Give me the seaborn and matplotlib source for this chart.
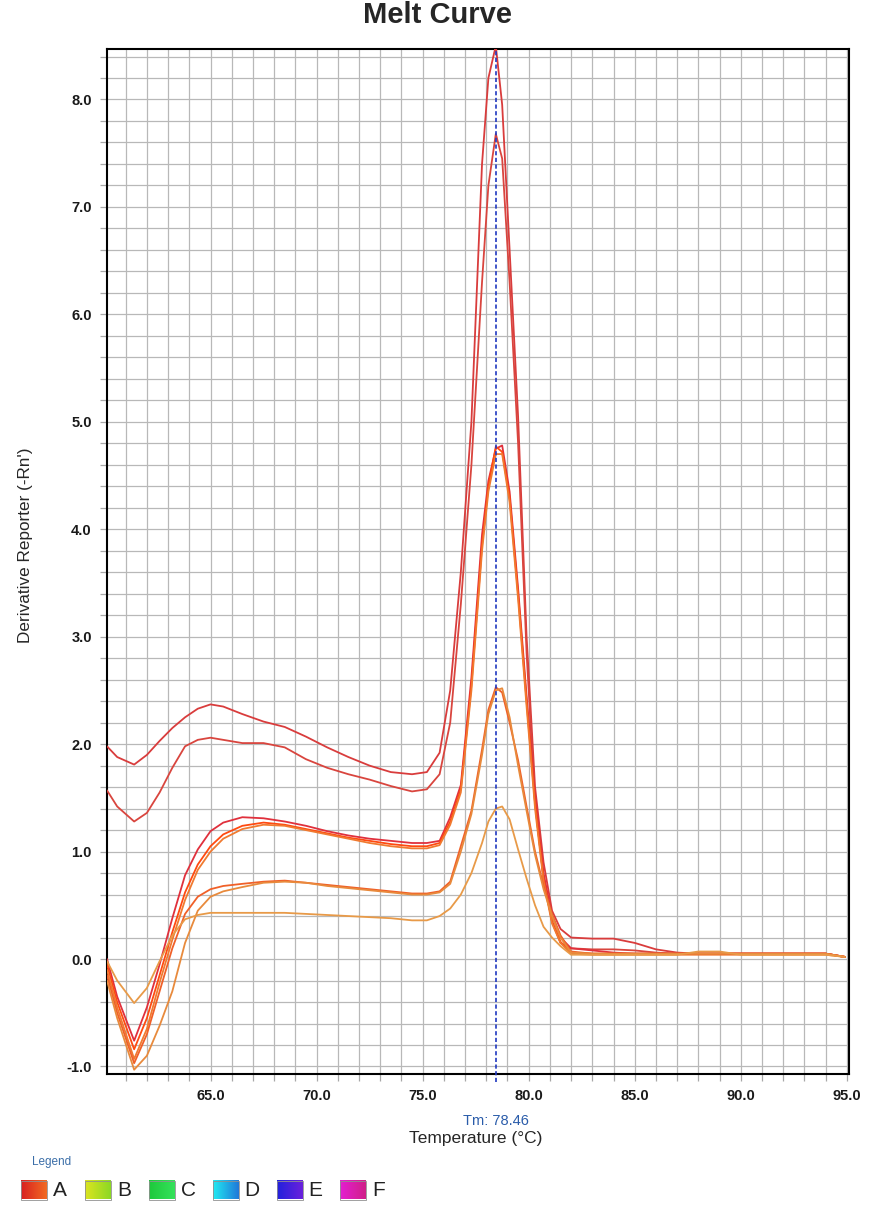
import numpy as np
import pandas as pd
import seaborn as sns
import matplotlib.pyplot as plt
from matplotlib.colors import LinearSegmentedColormap
from matplotlib.patches import Rectangle
from matplotlib.ticker import FormatStrFormatter, MultipleLocator

# temperature points (deg C), shared by every well
temps = [60.12, 60.6, 61.4, 62.0, 62.6, 63.2, 63.8, 64.4, 65.0, 65.6,
         66.5, 67.5, 68.5, 69.5, 70.5, 71.5, 72.5, 73.5, 74.5, 75.2,
         75.8, 76.3, 76.8, 77.3, 77.8, 78.1, 78.45, 78.75, 79.1, 79.5,
         79.9, 80.3, 80.7, 81.1, 81.5, 82.0,
         83.0, 84.0, 85.0, 86.0, 87.0, 88.0, 89.0, 90.0, 91.0, 92.0, 93.0, 94.0, 94.9]

# derivative reporter (-Rn') per well
well_1 = [1.98, 1.88, 1.81, 1.90, 2.03, 2.15, 2.25, 2.33, 2.37, 2.35, 2.28, 2.21, 2.16, 2.07, 1.97, 1.88, 1.80, 1.74, 1.72, 1.74,
          1.92, 2.50, 3.60, 5.00, 7.40, 8.20, 8.50, 7.95, 6.60, 5.05, 3.00, 1.60, 0.90, 0.45, 0.28, 0.20,
          0.19, 0.19, 0.15, 0.09, 0.06, 0.05, 0.05, 0.05, 0.05, 0.05, 0.05, 0.05, 0.02]
well_2 = [1.57, 1.42, 1.28, 1.36, 1.55, 1.78, 1.98, 2.04, 2.06, 2.04, 2.01, 2.01, 1.97, 1.86, 1.78, 1.72, 1.67, 1.61, 1.56, 1.58,
          1.72, 2.20, 3.30, 4.60, 6.30, 7.20, 7.68, 7.45, 6.30, 4.80, 2.85, 1.45, 0.75, 0.35, 0.15, 0.10,
          0.09, 0.09, 0.08, 0.06, 0.05, 0.05, 0.05, 0.05, 0.05, 0.05, 0.05, 0.05, 0.02]
well_3 = [0.00, -0.35, -0.76, -0.45, -0.05, 0.38, 0.78, 1.02, 1.19, 1.27, 1.32, 1.31, 1.28, 1.24, 1.19, 1.15, 1.12, 1.10, 1.08, 1.08,
          1.10, 1.32, 1.62, 2.62, 3.95, 4.45, 4.75, 4.78, 4.35, 3.45, 2.45, 1.50, 0.80, 0.40, 0.20, 0.10,
          0.08, 0.06, 0.05, 0.05, 0.05, 0.05, 0.05, 0.05, 0.05, 0.05, 0.05, 0.05, 0.02]
well_4 = [-0.05, -0.40, -0.84, -0.55, -0.15, 0.25, 0.62, 0.88, 1.05, 1.16, 1.24, 1.27, 1.25, 1.21, 1.17, 1.13, 1.10, 1.07, 1.05, 1.05,
          1.08, 1.28, 1.58, 2.55, 3.85, 4.40, 4.77, 4.72, 4.30, 3.40, 2.40, 1.45, 0.75, 0.35, 0.16, 0.06,
          0.05, 0.05, 0.05, 0.05, 0.05, 0.05, 0.05, 0.05, 0.05, 0.05, 0.05, 0.05, 0.02]
well_5 = [-0.10, -0.45, -0.93, -0.65, -0.22, 0.18, 0.55, 0.83, 1.00, 1.12, 1.21, 1.25, 1.24, 1.20, 1.16, 1.12, 1.08, 1.05, 1.03, 1.03,
          1.06, 1.25, 1.55, 2.50, 3.80, 4.35, 4.70, 4.70, 4.25, 3.35, 2.35, 1.40, 0.72, 0.33, 0.15, 0.05,
          0.04, 0.04, 0.04, 0.04, 0.04, 0.04, 0.04, 0.04, 0.04, 0.04, 0.04, 0.04, 0.02]
well_6 = [-0.15, -0.50, -0.97, -0.70, -0.30, 0.10, 0.42, 0.58, 0.65, 0.68, 0.70, 0.72, 0.73, 0.71, 0.69, 0.67, 0.65, 0.63, 0.61, 0.61,
          0.63, 0.72, 1.05, 1.38, 1.95, 2.32, 2.53, 2.48, 2.20, 1.85, 1.42, 1.00, 0.68, 0.42, 0.22, 0.07,
          0.05, 0.05, 0.05, 0.05, 0.05, 0.05, 0.05, 0.05, 0.05, 0.05, 0.05, 0.05, 0.02]
well_7 = [-0.20, -0.55, -1.03, -0.90, -0.62, -0.30, 0.15, 0.45, 0.58, 0.63, 0.67, 0.71, 0.72, 0.71, 0.68, 0.66, 0.64, 0.62, 0.60, 0.60,
          0.62, 0.70, 1.00, 1.35, 1.90, 2.28, 2.50, 2.52, 2.25, 1.80, 1.38, 0.97, 0.65, 0.40, 0.20, 0.06,
          0.05, 0.05, 0.05, 0.05, 0.05, 0.05, 0.05, 0.05, 0.05, 0.05, 0.05, 0.05, 0.02]
well_8 = [-0.02, -0.20, -0.41, -0.27, -0.02, 0.22, 0.37, 0.41, 0.43, 0.43, 0.43, 0.43, 0.43, 0.42, 0.41, 0.40, 0.39, 0.38, 0.36, 0.36,
          0.40, 0.47, 0.60, 0.80, 1.08, 1.28, 1.40, 1.42, 1.30, 1.02, 0.75, 0.50, 0.30, 0.20, 0.12, 0.04,
          0.04, 0.04, 0.04, 0.04, 0.04, 0.07, 0.07, 0.04, 0.04, 0.04, 0.04, 0.04, 0.02]

wells = ['A1', 'A2', 'A3', 'A4', 'A5', 'A6', 'A7', 'A8']
well_colors = ['#d93c3c', '#d9453e', '#e0303c', '#ff4a10', '#f07a30', '#f06028', '#e88a3c', '#e89a48']
tm_value = 78.46
legend_labels = ['A', 'B', 'C', 'D', 'E', 'F']
legend_grads = [('#d82020', '#f26a22'), ('#dce420', '#8cd824'), ('#1ec83c', '#34e25a'),
                ('#20eaf2', '#2078d8'), ('#2222dc', '#6a20dc'), ('#e41ed2', '#d02088')]

df = pd.DataFrame({
    'Temperature': np.tile(temps, len(wells)),
    'Deriv': np.concatenate([well_1, well_2, well_3, well_4, well_5, well_6, well_7, well_8]),
    'Well': np.repeat(wells, len(temps)),
})

sns.set_style('white')
plt.rcParams['font.family'] = ['Liberation Sans', 'DejaVu Sans']

fig = plt.figure(figsize=(8.7, 12.07), dpi=100)
ax = fig.add_axes([107 / 870, 1 - 1074 / 1207, 742 / 870, 1025 / 1207])

sns.lineplot(data=df, x='Temperature', y='Deriv', hue='Well', palette=well_colors,
             estimator=None, sort=False, legend=False, linewidth=1.3, ax=ax, zorder=3)

ax.axvline(tm_value, ymin=-0.008, ymax=1, color='#2038c0', linestyle=(0, (2.5, 1.5)),
           linewidth=1.2, clip_on=False, zorder=4)

ax.set_xlim(60.12, 95.1)
ax.set_ylim(-1.07, 8.47)
ax.xaxis.set_major_locator(MultipleLocator(5))
ax.xaxis.set_minor_locator(MultipleLocator(1))
ax.yaxis.set_major_locator(MultipleLocator(1))
ax.yaxis.set_minor_locator(MultipleLocator(0.2))
ax.xaxis.set_major_formatter(FormatStrFormatter('%.1f'))
ax.yaxis.set_major_formatter(FormatStrFormatter('%.1f'))
ax.set_xticks([65, 70, 75, 80, 85, 90, 95])
ax.grid(True, which='both', color='#b8b8b8', linewidth=0.9)
ax.set_axisbelow(True)
ax.tick_params(which='both', direction='out', length=5, width=0.9, color='#a8a8a8',
               left=True, bottom=True)
ax.tick_params(which='major', labelsize=10.5, pad=6, labelcolor='#1a1a1a')
for lbl in ax.get_xticklabels() + ax.get_yticklabels():
    lbl.set_fontweight('bold')
for sp in ax.spines.values():
    sp.set_color('black')
    sp.set_linewidth(1.5)

ax.set_xlabel('Temperature (°C)', fontsize=12.5)
ax.set_ylabel("Derivative Reporter (-Rn')", fontsize=12.3)
ax.xaxis.set_label_coords(0.497, -0.0634)
ax.yaxis.set_label_coords(-0.1105, 0.516)
ax.xaxis.label.set_va('center')
ax.yaxis.label.set_va('center')

ax.text(tm_value, -0.0455, 'Tm: 78.46', transform=ax.get_xaxis_transform(),
        ha='center', va='center', fontsize=10.5, color='#2a5caa')

fig.text(0.503, 1 - 23 / 1207, 'Melt Curve', ha='center', va='baseline',
         fontsize=21, fontweight='bold')

# bottom legend with gradient swatches, drawn in pixel coordinates
lax = fig.add_axes([0, 0, 1, 1], zorder=5)
lax.patch.set_alpha(0)
lax.axis('off')
lax.text(32, 1162, 'Legend', ha='left', va='center', fontsize=8.5, color='#3b6ea8')
for i, (lab, (c0, c1)) in enumerate(zip(legend_labels, legend_grads)):
    x0 = 21 + i * 63.9
    cmap = LinearSegmentedColormap.from_list('g%d' % i, [c0, c1])
    lax.imshow(np.linspace(0, 1, 64).reshape(1, -1), cmap=cmap, aspect='auto',
               extent=(x0, x0 + 26, 1199.5, 1180.5))
    lax.add_patch(Rectangle((x0, 1180.5), 26, 19, fill=False, edgecolor='#909090', linewidth=0.6))
    lax.text(x0 + 32, 1191, lab, ha='left', va='center', fontsize=15, color='#222222')
lax.set_xlim(0, 870)
lax.set_ylim(1207, 0)

fig.savefig('out.png', dpi=100)
